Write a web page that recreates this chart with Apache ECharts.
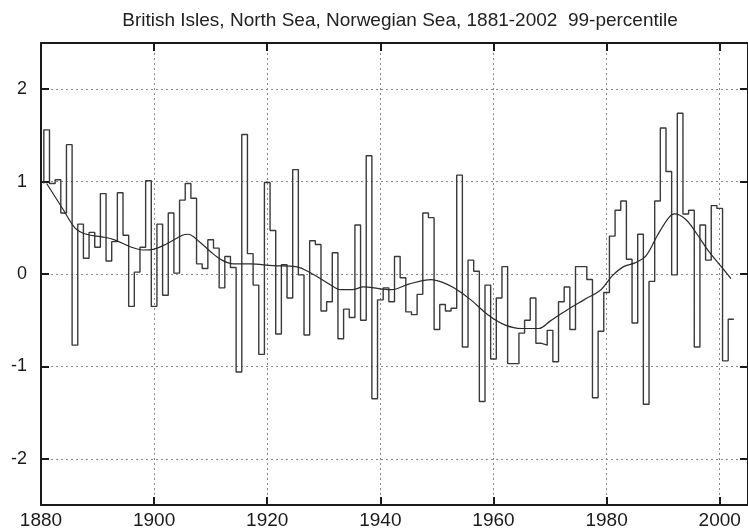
<!DOCTYPE html>
<html>
<head>
<meta charset="utf-8">
<script src="https://cdn.jsdelivr.net/npm/echarts@6/dist/echarts.min.js"></script>
<style>html,body{margin:0;padding:0;background:#fff;}#c{width:748px;height:532px;}</style>
</head>
<body>
<div id="c"></div>
<script>
// ---- data ----
const titleText = 'British Isles, North Sea, Norwegian Sea, 1881-2002  99-percentile';
const firstYear = 1881;
const values = [
  // 1881-1890
  1.56, 0.98, 1.02, 0.66, 1.40, -0.77, 0.54, 0.17, 0.45, 0.29,
  // 1891-1900
  0.87, 0.14, 0.35, 0.88, 0.42, -0.35, 0.02, 0.29, 1.01, -0.35,
  // 1901-1910
  0.54, -0.23, 0.66, 0.01, 0.80, 0.98, 0.82, 0.11, 0.06, 0.37,
  // 1911-1920
  0.28, -0.15, 0.19, 0.07, -1.06, 1.51, 0.22, -0.12, -0.87, 0.99,
  // 1921-1930
  0.47, -0.65, 0.10, -0.26, 1.13, -0.01, -0.66, 0.36, 0.32, -0.40,
  // 1931-1940
  -0.30, 0.23, -0.70, -0.38, -0.47, 0.53, -0.50, 1.28, -1.35, -0.28,
  // 1941-1950
  -0.15, -0.30, 0.19, -0.04, -0.41, -0.44, -0.22, 0.66, 0.61, -0.60,
  // 1951-1960
  -0.33, -0.40, -0.37, 1.07, -0.79, 0.15, 0.03, -1.38, -0.12, -0.92,
  // 1961-1970
  -0.26, 0.08, -0.97, -0.97, -0.64, -0.50, -0.26, -0.75, -0.77, -0.61,
  // 1971-1980
  -0.95, -0.30, -0.14, -0.60, 0.08, 0.08, -0.06, -1.34, -0.62, -0.20,
  // 1981-1990
  0.41, 0.69, 0.79, 0.16, -0.53, 0.43, -1.41, -0.08, 0.79, 1.58,
  // 1991-2000
  1.11, -0.01, 1.74, 0.65, 0.69, -0.79, 0.53, 0.15, 0.74, 0.71,
  // 2001-2002
  -0.94, -0.49
];
const smoothYears = [1881, 1884, 1886, 1888, 1891, 1893, 1896, 1898, 1900, 1902, 1905, 1906, 1908, 1910, 1912, 1914, 1917, 1921, 1925, 1928, 1931, 1933, 1935, 1937, 1940, 1942, 1945, 1949, 1951, 1953, 1956, 1959, 1962, 1965, 1968, 1970, 1973, 1976, 1979, 1981, 1983, 1985, 1987, 1989, 1991, 1992, 1994, 1996, 1998, 2000, 2002];
const smoothVals  = [0.98, 0.69, 0.50, 0.43, 0.40, 0.37, 0.29, 0.26, 0.27, 0.32, 0.42, 0.43, 0.35, 0.24, 0.15, 0.11, 0.11, 0.09, 0.08, 0.00, -0.11, -0.17, -0.17, -0.14, -0.16, -0.17, -0.11, -0.06, -0.09, -0.15, -0.28, -0.44, -0.55, -0.59, -0.59, -0.51, -0.39, -0.28, -0.17, -0.02, 0.08, 0.12, 0.20, 0.42, 0.61, 0.65, 0.59, 0.43, 0.25, 0.10, -0.05];
const xMin = 1880, xMax = 2005, xStep = 20;
const yMin = -2.5, yMax = 2.5;
const yTicks = [-2, -1, 0, 1, 2];

// ---- build series data (stairs: each year's value held over year-0.5 .. year+0.5) ----
const stepData = [[firstYear - 0.5, smoothVals[0]]];
values.forEach((v, i) => stepData.push([firstYear + i - 0.5, v]));
stepData.push([firstYear + values.length - 0.5, values[values.length - 1]]);
const smoothData = smoothYears.map((y, i) => [y, smoothVals[i]]);

const axisCol = '#1a1a1a';
const fontFam = '"Liberation Sans", Arial, Helvetica, sans-serif';
const gridLine = { show: true, lineStyle: { color: '#8a8a8a', type: [2, 3], width: 1 } };

const chart = echarts.init(document.getElementById('c'), null, { renderer: 'canvas' });
chart.setOption({
  backgroundColor: '#ffffff',
  animation: false,
  title: {
    text: titleText,
    left: 395, top: 6, textAlign: 'center',
    textStyle: { fontFamily: fontFam, fontSize: 19, fontWeight: 'normal', color: '#222' }
  },
  grid: { left: 41, top: 43, width: 715, height: 462 },
  xAxis: [{
    type: 'value', min: xMin, max: xMax, interval: xStep,
    axisLine: { show: true, onZero: false, lineStyle: { color: axisCol, width: 2 } },
    axisTick: { show: true, inside: true, length: 8, lineStyle: { color: axisCol, width: 2 } },
    axisLabel: { show: true, margin: 6, showMaxLabel: false, color: '#1a1a1a', fontSize: 19, fontFamily: fontFam,
      formatter: v => String(v) },
    splitLine: gridLine
  }, {
    type: 'value', min: xMin, max: xMax, interval: xStep, position: 'top',
    axisLine: { show: true, onZero: false, lineStyle: { color: axisCol, width: 2 } },
    axisTick: { show: true, inside: true, length: 8, lineStyle: { color: axisCol, width: 2 } },
    axisLabel: { show: false },
    splitLine: { show: false }
  }],
  yAxis: [{
    type: 'value', min: yMin, max: yMax,
    axisLine: { show: true, onZero: false, lineStyle: { color: axisCol, width: 2 } },
    axisTick: { show: true, inside: true, length: 8, customValues: yTicks, lineStyle: { color: axisCol, width: 2 } },
    axisLabel: { show: true, margin: 14, customValues: yTicks, color: '#1a1a1a', fontSize: 18, fontFamily: fontFam,
      formatter: v => String(v) },
    splitLine: gridLine
  }, {
    type: 'value', min: yMin, max: yMax, position: 'right',
    axisLine: { show: true, onZero: false, lineStyle: { color: axisCol, width: 2 } },
    axisTick: { show: true, inside: true, length: 8, customValues: yTicks, lineStyle: { color: axisCol, width: 2 } },
    axisLabel: { show: false },
    splitLine: { show: false }
  }],
  series: [{
    type: 'line', xAxisIndex: 0, yAxisIndex: 0,
    data: stepData, step: 'end', showSymbol: false, symbol: 'none',
    lineStyle: { color: '#3a3a3a', width: 1.4 }, z: 3
  }, {
    type: 'line', xAxisIndex: 0, yAxisIndex: 0,
    data: smoothData, smooth: 0.35, showSymbol: false, symbol: 'none',
    lineStyle: { color: '#2a2a2a', width: 1.2 }, z: 4
  }]
});
</script>
</body>
</html>
